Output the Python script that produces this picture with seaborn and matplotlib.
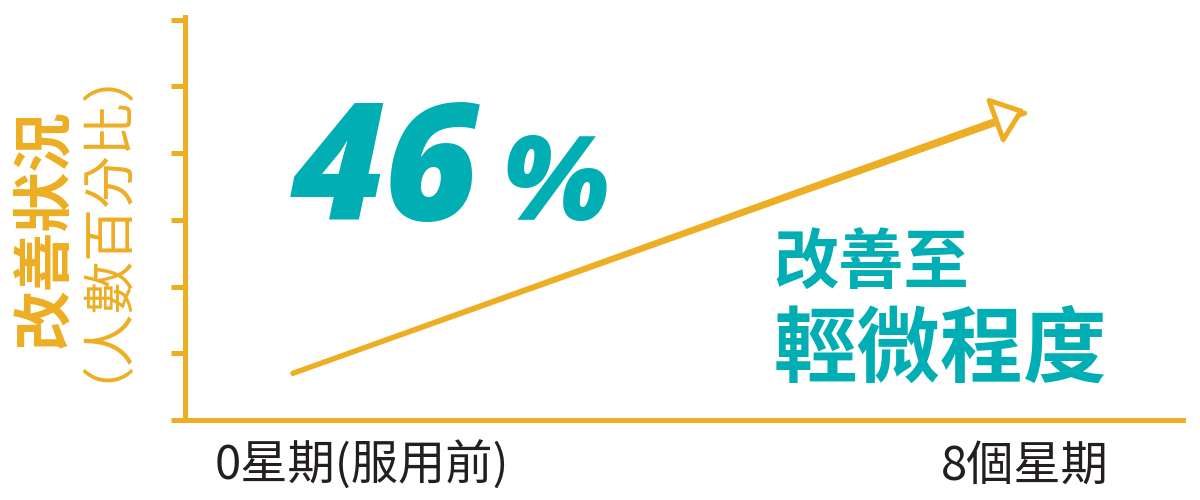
import matplotlib
matplotlib.use('Agg')
import matplotlib.pyplot as plt
import matplotlib.transforms as mtransforms
import numpy as np
import pandas as pd
import seaborn as sns

# values
weeks = [0, 8]
improved_pct = [7, 46]
week_labels = ['0星期(服用前)', '8個星期']
yticks = np.arange(0, 61, 10)
headline = '46'
headline_unit = '%'
note_top = '改善至'
note_bottom = '輕微程度'
ylabel_main = '改善狀況'
ylabel_sub = '（人數百分比）'

YELLOW = '#EDAE23'
TEAL = '#00AEB3'
INK = '#231F20'

sns.set_theme(style='white')
plt.rcParams['font.family'] = ['Noto Sans CJK TC', 'DejaVu Sans']

df = pd.DataFrame({'week': weeks, 'pct': improved_pct})

fig = plt.figure(figsize=(12, 5), dpi=100)
ax = fig.add_axes([185 / 1200, 80 / 500, 998 / 1200, 403 / 500])

# rising line plus open arrow head
sns.lineplot(data=df, x='week', y='pct', color=YELLOW, lw=3.6, ax=ax,
             solid_capstyle='round')
ax.annotate('', xy=(weeks[-1], improved_pct[-1] + 0.5),
            xytext=(weeks[0], improved_pct[0]),
            arrowprops=dict(arrowstyle='-|>,head_length=0.95,head_width=0.75',
                            mutation_scale=20, fc='white', ec=YELLOW, lw=3.6,
                            shrinkA=0, shrinkB=0, joinstyle='round',
                            capstyle='round'), zorder=3)

ax.set_xlim(-1.18, 9.73)
ax.set_ylim(0, 60.4)
ax.set_xlabel('')
ax.set_ylabel('')

sns.despine(ax=ax)
for side in ['left', 'bottom']:
    ax.spines[side].set_color(YELLOW)
    ax.spines[side].set_linewidth(3.6)

ax.set_yticks(yticks)
ax.set_yticklabels([])
ax.tick_params(axis='y', left=True, direction='out', length=10, width=3.6,
               color=YELLOW)

ax.set_xticks(weeks)
ax.set_xticklabels(week_labels, fontsize=34, color=INK, fontweight='medium')
ax.tick_params(axis='x', bottom=True, length=0, pad=16)
# first label sits a bit right of its week
shift = mtransforms.ScaledTranslation(0.69, 0, fig.dpi_scale_trans)
first = ax.get_xticklabels()[0]
first.set_transform(first.get_transform() + shift)

# big number
ax.text(0.106, 0.496, headline, transform=ax.transAxes, fontsize=117,
        fontfamily='Open Sans', fontweight='heavy', fontstyle='italic',
        color=TEAL, ha='left', va='baseline')
ax.text(0.318, 0.496, headline_unit, transform=ax.transAxes, fontsize=84,
        fontfamily='Open Sans', fontweight='heavy', fontstyle='italic',
        color=TEAL, ha='left', va='baseline')

ax.text(0.590, 0.337, note_top, transform=ax.transAxes, fontsize=47,
        fontweight='bold', color=TEAL, ha='left', va='baseline')
ax.text(0.590, 0.109, note_bottom, transform=ax.transAxes, fontsize=60,
        fontweight='bold', color=TEAL, ha='left', va='baseline')

fig.text(0.0375, 0.542, ylabel_main, rotation=90, fontsize=43,
         fontweight='bold', color=YELLOW, ha='center', va='center')
fig.text(0.064, 0.606, ylabel_sub, rotation=90, fontsize=38,
         color=YELLOW, ha='center', va='center')

fig.savefig('out.png', dpi=100, facecolor='white')
